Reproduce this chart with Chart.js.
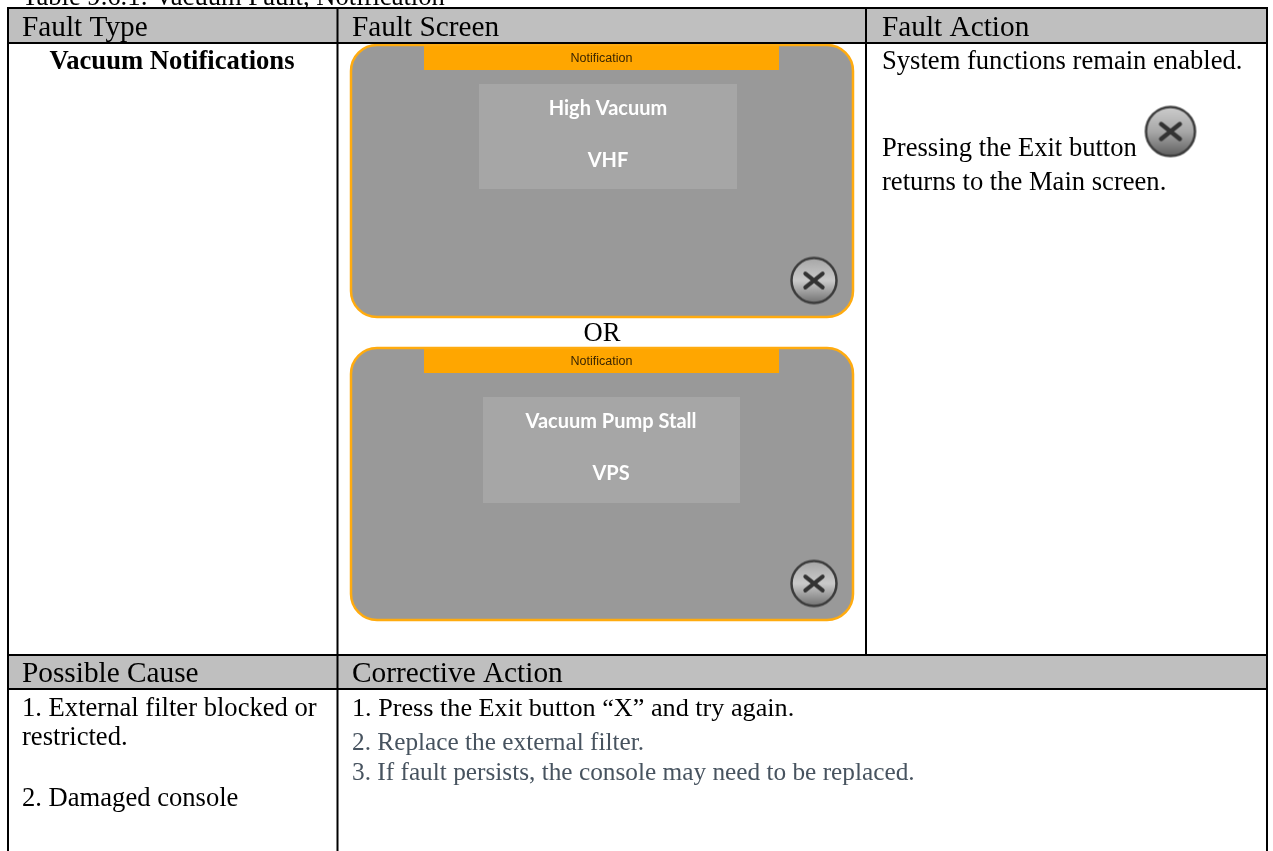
<!DOCTYPE html>
<html lang="en">
<head>
<meta charset="UTF-8">
<title>Vacuum Fault, Notification</title>
<script src="https://cdn.jsdelivr.net/npm/chart.js"></script>
<style>
    html, body { margin: 0; padding: 0; background: #fff; overflow: hidden; }
    #wrap { width: 1273px; height: 851px; }
    canvas { display: block; }
</style>
</head>
<body>
<div id="wrap"><canvas id="myChart" width="1273" height="851"></canvas></div>
<script>
// table text
const tableTitle = 'Table 9.6.1: Vacuum Fault, Notification';
const topHeaders = ['Fault Type', 'Fault Screen', 'Fault Action'];
const bottomHeaders = ['Possible Cause', 'Corrective Action'];
const faultType = 'Vacuum Notifications';
const faultActions = ['System functions remain enabled.', 'Pressing the Exit button', 'returns to the Main screen.'];
const possibleCauses = ['1. External filter blocked or', 'restricted.', '2. Damaged console'];
const correctiveActions = ['1. Press the Exit button \u201cX\u201d and try again.', '2. Replace the external filter.', '3. If fault persists, the console may need to be replaced.'];
const screenTitle = 'Notification';
const screenLines = [['High Vacuum', 'VHF'], ['Vacuum Pump Stall', 'VPS']];
const orLabel = 'OR';

// layout, in page pixels (the axes run 0-1273 and 0-851)
const colX = [8, 337.5, 866, 1267];
const textX = [22, 352, 882];
const rowY = [8, 43, 655, 689, 851];
const panels = [
    { x: 351, y: 45, w: 502, h: 272, bandY: 45, box: [479, 84, 258, 105], textX: 608, textY: [114.5, 166.5] },
    { x: 351, y: 348, w: 502, h: 272, bandY: 348, box: [483, 397, 257, 106], textX: 611, textY: [428, 479.5] }
];
const exitButtons = [{ x: 814, y: 280.5 }, { x: 814, y: 583.5 }, { x: 1170.5, y: 131.5 }];
const exitRadius = [24, 24, 26];
const exitShades = [
    ['#a4a4a4', '#cacaca', '#6c6c6c'],
    ['#a4a4a4', '#cacaca', '#6c6c6c'],
    ['#cfcfcf', '#a8a8a8', '#5a5a5a']
];

function makeButton(r, shades) {
    const c = document.createElement('canvas');
    c.width = c.height = r * 2 + 2;
    const g = c.getContext('2d');
    const m = r + 1;
    const fill = g.createLinearGradient(0, m - r, 0, m + r);
    fill.addColorStop(0, shades[0]);
    fill.addColorStop(0.5, shades[1]);
    fill.addColorStop(1, shades[2]);
    g.beginPath();
    g.arc(m, m, r - 1.5, 0, Math.PI * 2);
    g.fillStyle = fill;
    g.fill();
    g.lineWidth = 2.5;
    g.strokeStyle = '#3c3c3c';
    g.stroke();
    const d = r * 0.36;
    g.beginPath();
    g.moveTo(m - d, m - d * 0.8); g.lineTo(m + d, m + d * 0.8);
    g.moveTo(m + d, m - d * 0.8); g.lineTo(m - d, m + d * 0.8);
    g.lineWidth = r * 0.17;
    g.lineCap = 'round';
    g.strokeStyle = '#333333';
    g.stroke();
    return c;
}

const serif = '"Liberation Serif", "Times New Roman", serif';

const tablePlugin = {
    id: 'tablePlugin',
    beforeDatasetsDraw(chart) {
        const g = chart.ctx;
        const sx = v => chart.scales.x.getPixelForValue(v);
        const sy = v => chart.scales.y.getPixelForValue(v);

        function text(s, x, y, font, color, align) {
            g.font = font;
            g.fillStyle = color || '#000';
            g.textAlign = align || 'left';
            g.textBaseline = 'alphabetic';
            g.fillText(s, sx(x), sy(y));
        }
        function fillRect(x0, y0, x1, y1, color) {
            g.fillStyle = color;
            g.fillRect(sx(x0), sy(y0), sx(x1) - sx(x0), sy(y1) - sy(y0));
        }
        function rule(x0, y0, x1, y1) {
            g.beginPath();
            g.moveTo(sx(x0), sy(y0));
            g.lineTo(sx(x1), sy(y1));
            g.lineWidth = 2;
            g.strokeStyle = '#000';
            g.stroke();
        }

        g.save();
        fillRect(0, 0, 1273, 851, '#fff');

        const head = '29.3px ' + serif;
        const body = '26.6px ' + serif;
        const small = '25.3px ' + serif;
        text(tableTitle, 22, 5, body);
        fillRect(0, 7, 1273, 9, '#fff');

        fillRect(colX[0], rowY[0], colX[3], rowY[1], '#bfbfbf');
        fillRect(colX[0], rowY[2], colX[3], rowY[3], '#bfbfbf');

        // fault screens
        panels.forEach((p, i) => {
            g.beginPath();
            g.roundRect(sx(p.x), sy(p.y), p.w, p.h, 26);
            g.fillStyle = '#999999';
            g.fill();
            g.save();
            g.clip();
            fillRect(424, p.bandY, 779, p.bandY + 25, '#ffa600');
            g.restore();
            g.lineWidth = 2.5;
            g.strokeStyle = '#ffab0f';
            g.stroke();
            fillRect(p.box[0], p.box[1], p.box[0] + p.box[2], p.box[1] + p.box[3], '#a6a6a6');
            text(screenTitle, 601.5, p.bandY + 17, '12.5px "Liberation Sans", Arial, sans-serif', '#3a2500', 'center');
            screenLines[i].forEach((s, j) => {
                text(s, p.textX, p.textY[j], 'bold 20px Lato, "Open Sans", sans-serif', '#fff', 'center');
            });
        });

        // grid
        [rowY[0], rowY[1], rowY[2], rowY[3]].forEach(y => rule(colX[0], y, colX[3], y));
        rule(colX[0], rowY[0] - 1, colX[0], rowY[4]);
        rule(colX[1], rowY[0], colX[1], rowY[4]);
        rule(colX[2], rowY[0], colX[2], rowY[2]);
        rule(colX[3], rowY[0] - 1, colX[3], rowY[4]);

        // cell text
        topHeaders.forEach((s, i) => text(s, textX[i], 36, head));
        bottomHeaders.forEach((s, i) => text(s, textX[i], 682, head));
        text(faultType, 172, 68.5, 'bold ' + body, '#000', 'center');
        text(orLabel, 602, 341, body, '#000', 'center');
        text(faultActions[0], textX[2], 68.5, body);
        text(faultActions[1], textX[2], 156, body);
        text(faultActions[2], textX[2], 190, body);
        text(possibleCauses[0], textX[0], 715.5, body);
        text(possibleCauses[1], textX[0], 745, body);
        text(possibleCauses[2], textX[0], 806, body);
        text(correctiveActions[0], textX[1], 715.5, '26.2px ' + serif);
        text(correctiveActions[1], textX[1], 750, small, '#47535f');
        text(correctiveActions[2], textX[1], 780, small, '#47535f');
        g.restore();
    }
};

new Chart(document.getElementById('myChart').getContext('2d'), {
    type: 'scatter',
    data: {
        datasets: [{
            data: exitButtons,
            pointStyle: exitRadius.map((r, i) => makeButton(r, exitShades[i])),
            pointRadius: exitRadius,
            pointHoverRadius: exitRadius
        }]
    },
    options: {
        responsive: false,
        animation: false,
        layout: { padding: 0, autoPadding: false },
        plugins: { legend: { display: false }, tooltip: { enabled: false } },
        scales: {
            x: { type: 'linear', min: 0, max: 1273, display: false },
            y: { type: 'linear', min: 0, max: 851, reverse: true, display: false }
        }
    },
    plugins: [tablePlugin]
});
</script>
</body>
</html>
